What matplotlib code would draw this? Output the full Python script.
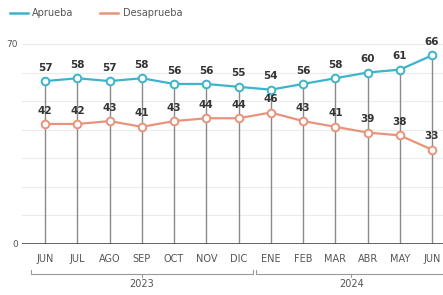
import numpy as np
import matplotlib
matplotlib.use("Agg")
from matplotlib import pyplot as plt

months = ['JUN', 'JUL', 'AGO', 'SEP', 'OCT', 'NOV', 'DIC',
          'ENE', 'FEB', 'MAR', 'ABR', 'MAY', 'JUN']
aprueba = [57, 58, 57, 58, 56, 56, 55, 54, 56, 58, 60, 61, 66]
desaprueba = [42, 42, 43, 41, 43, 44, 44, 46, 43, 41, 39, 38, 33]
years = ['2023', '2024']
year_spans = [(0, 6), (7, 12)]

plt.rcParams['font.family'] = ['Liberation Sans Narrow', 'DejaVu Sans']

c_apr = '#3db4cc'
c_des = '#e8937b'
grey = '#555555'

fig = plt.figure(figsize=(4.43, 2.95), dpi=100)
ax = fig.add_axes([0.05, 0.173, 0.95, 0.678])

x = np.arange(len(months))
ax.set_xlim(-0.713, 12.34)
ax.set_ylim(0, 70)

for v in range(10, 71, 10):
    ax.axhline(v, color='#ececec', lw=0.8, zorder=0)

ax.vlines(x, 0, aprueba, color='#8a8a8a', lw=1, zorder=1)
ax.axhline(0, color='#555555', lw=2, zorder=2)

ax.plot(x, aprueba, color=c_apr, lw=1.6, marker='o', ms=5.5,
        mfc='white', mec=c_apr, mew=1.4, zorder=3, clip_on=False)
ax.plot(x, desaprueba, color=c_des, lw=1.6, marker='o', ms=5.5,
        mfc='white', mec=c_des, mew=1.4, zorder=3, clip_on=False)

for xi, a, d in zip(x, aprueba, desaprueba):
    ax.annotate(str(a), (xi, a), xytext=(0, 6), textcoords='offset points',
                ha='center', va='bottom', fontsize=7.5, fontweight='bold', color='#333333')
    ax.annotate(str(d), (xi, d), xytext=(0, 6), textcoords='offset points',
                ha='center', va='bottom', fontsize=7.5, fontweight='bold', color='#333333')

for s in ax.spines.values():
    s.set_visible(False)
ax.set_xticks(x)
ax.set_xticklabels(months, fontsize=7, color=grey)
ax.set_yticks([0, 70])
ax.set_yticklabels(['0', '70'], fontsize=6.5, color=grey)
ax.tick_params(axis='x', length=0, pad=7)
ax.tick_params(axis='y', length=0, pad=3)

# year brackets
trans = ax.get_xaxis_transform()
for (a, b), yr in zip(year_spans, years):
    x0, x1 = a - 0.45, b + 0.45
    yb = -0.15
    ax.plot([x0, x0, x1, x1], [yb + 0.02, yb, yb, yb + 0.02], color='#999999',
            lw=0.8, transform=trans, clip_on=False)
    ax.plot([(x0 + x1) / 2] * 2, [yb, yb - 0.015], color='#999999', lw=0.8,
            transform=trans, clip_on=False)
    ax.text((a + b) / 2, yb - 0.025, yr, transform=trans, ha='center', va='top',
            fontsize=7, color=grey)

# legend
fig.lines.append(plt.Line2D([10 / 443, 28 / 443], [1 - 13 / 295] * 2, color=c_apr, lw=1.8,
                            transform=fig.transFigure))
fig.text(32 / 443, 1 - 13 / 295, 'Aprueba', fontsize=7, color=grey, va='center')
fig.lines.append(plt.Line2D([100 / 443, 118 / 443], [1 - 13 / 295] * 2, color=c_des, lw=1.8,
                            transform=fig.transFigure))
fig.text(123 / 443, 1 - 13 / 295, 'Desaprueba', fontsize=7, color=grey, va='center')

fig.savefig('out.png', dpi=100)
